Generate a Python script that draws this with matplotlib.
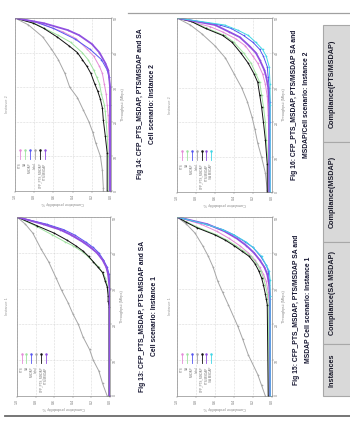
#!/usr/bin/env python3
"""
Rotated scan of a report page: four CDF plots, captions and a table strip.
"""

import matplotlib
matplotlib.use('Agg')
import matplotlib.pyplot as plt
from matplotlib.lines import Line2D
from matplotlib.patches import Rectangle

plt.rcParams['font.family'] = ['Liberation Sans', 'DejaVu Sans']

W, H = 350, 428

# series names and colours
names = ['PTS', 'SA', 'MSDAP', 'Ideal', 'CFP_PTS_MSDAP', 'PTS/MSDAP', 'SA MSDAP']
colors = {'PTS': '#e48ad8', 'SA': '#9fe39f', 'MSDAP': '#5656f0', 'Ideal': '#a6a6a6',
          'CFP_PTS_MSDAP': '#111111', 'PTS/MSDAP': '#9050e0', 'SA MSDAP': '#40d6e6'}

thr_ticks = [0, 10, 20, 30, 40, 50]
cdf_ticks = [0, 0.2, 0.4, 0.6, 0.8, 1.0]

# Fig 14 (top left) -- throughput / cdf pairs
a_thr = {
    'Ideal': [0, 1, 6, 10, 14, 17, 20, 23.5, 27, 30, 34, 38, 41, 44.5, 48, 50],
    'CFP_PTS_MSDAP': [0, 11, 16, 20.5, 24, 26.5, 29, 31, 34, 36, 38, 40, 42, 44.5, 47, 48.5, 50],
    'SA': [0, 10, 16, 20, 23, 25, 28, 31, 33, 35, 38, 40, 43, 45, 48.5, 50],
    'PTS': [0, 15, 22, 25, 28, 31, 34, 36, 39, 41, 44, 46, 48.5, 50],
    'MSDAP': [0, 25, 30, 33, 35, 38, 41, 44, 47, 49, 50],
    'PTS/MSDAP': [0, 25, 30, 33, 35, 37, 40, 42.5, 45, 46.5, 48.5, 50],
}
a_cdf = {
    'Ideal': [0.08, 0.08, 0.09, 0.11, 0.16, 0.19, 0.23, 0.29, 0.35, 0.43, 0.48, 0.55, 0.62, 0.71, 0.86, 1.0],
    'CFP_PTS_MSDAP': [0.04, 0.04, 0.06, 0.08, 0.09, 0.11, 0.14, 0.17, 0.21, 0.25, 0.30, 0.35, 0.44, 0.56, 0.70, 0.81, 1.0],
    'SA': [0.03, 0.03, 0.04, 0.05, 0.06, 0.07, 0.10, 0.12, 0.15, 0.18, 0.24, 0.30, 0.42, 0.55, 0.80, 1.0],
    'PTS': [0.02, 0.02, 0.03, 0.04, 0.05, 0.07, 0.09, 0.12, 0.18, 0.25, 0.36, 0.50, 0.75, 1.0],
    'MSDAP': [0.01, 0.01, 0.01, 0.02, 0.04, 0.10, 0.22, 0.38, 0.60, 0.80, 1.0],
    'PTS/MSDAP': [0.01, 0.01, 0.01, 0.02, 0.03, 0.06, 0.12, 0.20, 0.33, 0.45, 0.70, 1.0],
}

# Fig 16 (top right)
b_thr = {
    'Ideal': [0, 0.5, 5.5, 10, 14, 18, 21.5, 26, 30, 34, 38.5, 42, 45.5, 48, 50],
    'CFP_PTS_MSDAP': [0, 8, 15, 20, 24.5, 28, 31.5, 34, 37, 40, 43, 45, 47, 49, 50],
    'SA': [0, 8, 15, 20, 24.5, 28, 31.5, 34, 37, 40, 43, 45, 47, 49, 50],
    'PTS': [0, 15, 22, 27.5, 31, 34, 37, 39, 42, 44, 46, 47.5, 50],
    'PTS/MSDAP': [0, 18, 25, 30, 33, 35, 38, 40, 42, 44.5, 46, 48, 50],
    'MSDAP': [0, 20, 26, 30, 33, 36, 39, 41, 43, 45, 47, 48, 50],
    'SA MSDAP': [0, 25, 31, 36, 39, 41, 43, 45, 46.5, 48, 50],
}
b_cdf = {
    'Ideal': [0.05, 0.05, 0.07, 0.11, 0.15, 0.18, 0.21, 0.26, 0.32, 0.40, 0.49, 0.60, 0.74, 0.86, 1.0],
    'CFP_PTS_MSDAP': [0.05, 0.05, 0.07, 0.09, 0.11, 0.13, 0.15, 0.19, 0.25, 0.33, 0.42, 0.52, 0.70, 0.85, 1.0],
    'SA': [0.04, 0.04, 0.06, 0.07, 0.09, 0.11, 0.13, 0.17, 0.22, 0.30, 0.40, 0.50, 0.68, 0.84, 1.0],
    'PTS': [0.03, 0.03, 0.04, 0.05, 0.07, 0.10, 0.15, 0.20, 0.28, 0.38, 0.52, 0.65, 1.0],
    'PTS/MSDAP': [0.03, 0.03, 0.03, 0.04, 0.06, 0.08, 0.13, 0.17, 0.24, 0.34, 0.45, 0.60, 1.0],
    'MSDAP': [0.02, 0.02, 0.02, 0.03, 0.04, 0.05, 0.09, 0.13, 0.20, 0.30, 0.43, 0.55, 1.0],
    'SA MSDAP': [0.02, 0.02, 0.02, 0.03, 0.06, 0.10, 0.17, 0.25, 0.36, 0.50, 1.0],
}

# Fig 13 (bottom left)
c_thr = {
    'Ideal': [0, 3.5, 7, 10, 13, 16.5, 20, 23, 26, 29.5, 33, 37.5, 41, 45.5, 48, 50],
    'CFP_PTS_MSDAP': [0, 25, 26.5, 28, 30.5, 32, 34.5, 36, 37.5, 39, 40.5, 42, 43.5, 45.5, 47.5, 50],
    'SA': [0, 28, 31, 33, 34, 36, 37, 39, 40, 42, 43, 45, 47.5, 50],
    'PTS': [0, 30, 34, 36, 38, 40, 41.5, 43, 45, 46.5, 48, 50],
    'MSDAP': [0, 30, 34, 36, 38, 40, 41.5, 43, 45, 46.5, 48, 50],
    'PTS/MSDAP': [0, 30, 34, 36, 38, 40, 41.5, 43, 45, 46.5, 48, 50],
}
c_cdf = {
    'Ideal': [0.03, 0.08, 0.12, 0.18, 0.22, 0.29, 0.34, 0.40, 0.45, 0.52, 0.58, 0.66, 0.74, 0.83, 0.91, 1.0],
    'CFP_PTS_MSDAP': [0.01, 0.01, 0.02, 0.02, 0.03, 0.05, 0.08, 0.13, 0.18, 0.23, 0.29, 0.37, 0.46, 0.60, 0.78, 1.0],
    'SA': [0.01, 0.01, 0.03, 0.05, 0.07, 0.12, 0.16, 0.24, 0.28, 0.40, 0.48, 0.62, 0.80, 1.0],
    'PTS': [0.0, 0.0, 0.02, 0.04, 0.08, 0.14, 0.20, 0.28, 0.40, 0.52, 0.70, 1.0],
    'MSDAP': [0.0, 0.0, 0.01, 0.03, 0.07, 0.12, 0.18, 0.26, 0.38, 0.50, 0.68, 1.0],
    'PTS/MSDAP': [0.005, 0.005, 0.02, 0.04, 0.08, 0.14, 0.21, 0.29, 0.42, 0.54, 0.72, 1.0],
}

# Fig 15 (bottom right)
d_thr = {
    'Ideal': [0, 3, 6, 11.5, 16, 19.5, 25.5, 29, 32, 36, 39, 42, 45.5, 48, 50],
    'CFP_PTS_MSDAP': [0, 25.5, 27, 28.5, 31, 33, 35, 37, 39, 40.5, 42, 43.5, 45, 47, 48.5, 50],
    'SA': [0, 25.5, 28.5, 31, 33, 35, 37, 39, 40.5, 42, 43.5, 45, 47, 48.5, 50],
    'PTS': [0, 26, 29, 32, 34, 36, 38, 40, 42, 44, 46, 48, 50],
    'MSDAP': [0, 28, 32.5, 35, 36.5, 39, 41.5, 43, 45, 46.5, 48, 50],
    'PTS/MSDAP': [0, 27, 31, 34, 36, 38, 40, 42, 44, 46, 48, 50],
    'SA MSDAP': [0, 28, 32.5, 35, 36.5, 39, 41.5, 43, 45, 46.5, 48, 50],
}
d_cdf = {
    'Ideal': [0.07, 0.11, 0.15, 0.25, 0.31, 0.36, 0.46, 0.52, 0.57, 0.62, 0.67, 0.73, 0.81, 0.90, 1.0],
    'CFP_PTS_MSDAP': [0.04, 0.05, 0.06, 0.07, 0.09, 0.11, 0.14, 0.18, 0.24, 0.32, 0.40, 0.49, 0.60, 0.79, 0.90, 1.0],
    'SA': [0.03, 0.04, 0.05, 0.07, 0.09, 0.12, 0.16, 0.22, 0.30, 0.38, 0.47, 0.58, 0.77, 0.89, 1.0],
    'PTS': [0.03, 0.03, 0.04, 0.06, 0.09, 0.13, 0.18, 0.25, 0.34, 0.45, 0.58, 0.75, 1.0],
    'MSDAP': [0.02, 0.02, 0.03, 0.04, 0.06, 0.12, 0.20, 0.28, 0.40, 0.52, 0.70, 1.0],
    'PTS/MSDAP': [0.02, 0.02, 0.03, 0.05, 0.08, 0.13, 0.19, 0.27, 0.37, 0.50, 0.68, 1.0],
    'SA MSDAP': [0.02, 0.02, 0.02, 0.03, 0.06, 0.11, 0.20, 0.27, 0.40, 0.52, 0.70, 1.0],
}

captions = {
    'a': ['Fig 14: CFP_PTS_MSDAP, PTS/MSDAP and SA', 'Cell scenario: Instance 2'],
    'b': ['Fig 16: CFP_PTS_MSDAP, PTS/MSDAP SA and', 'MSDAP/Cell scenario: Instance 2'],
    'c': ['Fig 13: CFP_PTS_MSDAP, PTS-MSDAP and SA', 'Cell scenario: Instance 1'],
    'd': ['Fig 15: CFP_PTS_MSDAP, PTS/MSDAP SA and', 'MSDAP Cell scenario: Instance 1'],
}
titles = {'a': 'Instance 2', 'b': 'Instance 2', 'c': 'Instance 1', 'd': 'Instance 1'}
table_cells = ['Compliance(PTS/MSDAP)', 'Compliance(MSDAP)', 'Compliance(SA MSDAP)', 'Instances']


def box(x0, y0, x1, y1):
    """pixel box (top-left origin) to figure fraction"""
    return [x0 / W, 1 - y1 / H, (x1 - x0) / W, (y1 - y0) / H]


def fx(x):
    return x / W


def fy(y):
    return 1 - y / H


fig = plt.figure(figsize=(W / 100, H / 100), dpi=100)


def draw_panel(key, rect, thr, cdf, title_x):
    """One CDF plot, drawn as it appears on the rotated page"""
    ax = fig.add_axes(box(*rect))
    order = [n for n in names if n in thr]
    for n in order:
        lw = 1.3 if n == 'PTS/MSDAP' else 0.7
        mk = '+' if n in ('PTS/MSDAP', 'MSDAP') else '.'
        ax.plot(cdf[n], thr[n], color=colors[n], lw=lw, marker=mk, ms=1.6, mew=0.4)
    ax.set_xlim(1, 0)
    ax.set_ylim(0, 50)
    ax.set_xticks(cdf_ticks)
    ax.set_yticks(thr_ticks)
    ax.yaxis.tick_right()
    ax.yaxis.set_label_position('right')
    ax.tick_params(labelsize=2.6, colors='#777777', length=1.2, width=0.3, pad=1)
    for lab in ax.get_xticklabels() + ax.get_yticklabels():
        lab.set_rotation(90)
    ax.set_ylabel('Throughput (Mbps)', fontsize=2.8, color='#888888', labelpad=2, rotation=90)
    ax.set_xlabel('Cumulative probability %', fontsize=2.8, color='#888888', labelpad=1.5,
                  rotation=180)
    ax.grid(True, ls=':', color='#bbbbbb', lw=0.4)
    for s in ax.spines.values():
        s.set_color('#8c8c8c')
        s.set_linewidth(0.5)

    # legend: page-vertical list becomes a row of rotated entries
    for i, n in enumerate(order):
        lx = 0.05 + 0.052 * i
        ax.add_line(Line2D([lx, lx], [0.185, 0.235], transform=ax.transAxes,
                           color=colors[n], lw=0.6, marker='.', ms=1.6, markevery=[1]))
        ax.text(lx, 0.165, n, transform=ax.transAxes, rotation=90, fontsize=2.2,
                color='#777777', ha='center', va='top')

    cy = (rect[1] + rect[3]) / 2
    fig.text(fx(title_x), fy(cy), titles[key], rotation=90, fontsize=2.8,
             color='#999999', ha='center', va='center')
    return ax


draw_panel('a', (15, 18, 111, 191), a_thr, a_cdf, 7)
draw_panel('b', (177, 18, 272, 192), b_thr, b_cdf, 170)
draw_panel('c', (17, 217, 110, 396), c_thr, c_cdf, 7)
draw_panel('d', (177, 217, 272, 396), d_thr, d_cdf, 170)

# captions (bold, rotated)
cap_pos = {'a': (141, 153, 104), 'b': (295, 306, 105), 'c': (142, 154, 316), 'd': (296, 308, 310)}
for key, (x1, x2, cy) in cap_pos.items():
    line1, line2 = captions[key]
    fig.text(fx(x1), fy(cy), line1, rotation=90, fontsize=4.9, fontweight='bold',
             color='#151530', ha='center', va='center')
    fig.text(fx(x2), fy(cy), line2, rotation=90, fontsize=4.9, fontweight='bold',
             color='#151530', ha='center', va='center')

# page rules
fig.add_artist(Line2D([fx(128), fx(350)], [fy(13), fy(13)], color='#a0a0a0', lw=0.9))
fig.add_artist(Line2D([fx(5), fx(350)], [fy(416), fy(416)], color='#6a6a6a', lw=1.3))

# table strip at the page bottom
edges = [25, 142, 242, 344, 396]
for i, txt in enumerate(table_cells):
    y0, y1 = edges[i], edges[i + 1]
    fig.add_artist(Rectangle((fx(323), fy(y1)), fx(40), (y1 - y0) / H,
                             transform=fig.transFigure, facecolor='#d9d9d9',
                             edgecolor='#a8a8a8', lw=0.8))
    fig.text(fx(332), fy((y0 + y1) / 2), txt, rotation=90, fontsize=5.2,
             fontweight='bold', color='#1a1a2a', ha='center', va='center')

fig.savefig('out.png', dpi=100)
